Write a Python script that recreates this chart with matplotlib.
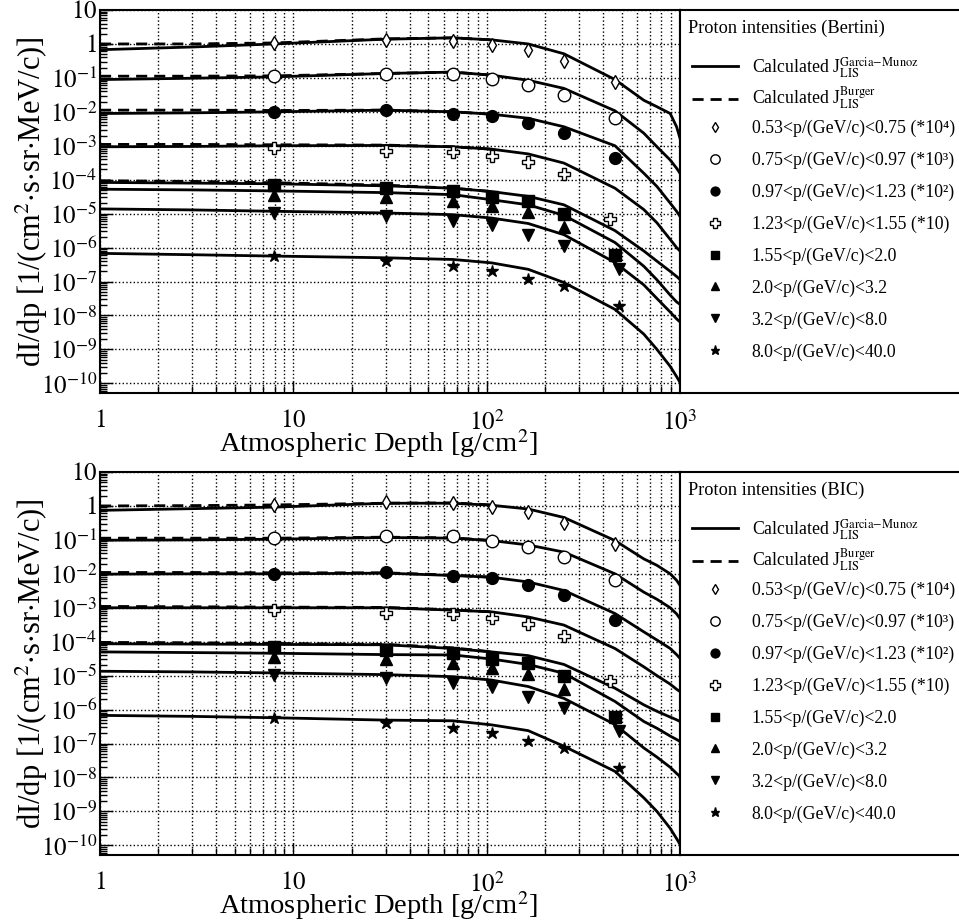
import numpy as np
import matplotlib
matplotlib.use("Agg")
import matplotlib.pyplot as plt
from matplotlib.lines import Line2D
from matplotlib.ticker import LogLocator, NullFormatter

plt.rcParams['font.family'] = ['Liberation Serif', 'DejaVu Serif']
plt.rcParams['mathtext.fontset'] = 'stix'

# ---- measured proton intensities (same points in both panels) ----
depth_main = [7.9, 30, 67, 106, 164, 251, 461]
depth_cross = [7.9, 30, 67, 106, 164, 251, 435]
depth_up = [7.9, 30, 67, 106, 164, 251]
depth_low = [7.9, 30, 67, 106, 164, 251, 482]

meas_053 = [1.05, 1.27, 1.21, 0.90, 0.68, 0.31, 0.076]
meas_075 = [0.111, 0.134, 0.128, 0.095, 0.061, 0.032, 0.0064]
meas_097 = [0.010, 0.0112, 0.0089, 0.0075, 0.0048, 0.0023, 4.3e-4]
meas_123 = [8.8e-4, 7.2e-4, 6.7e-4, 5.0e-4, 3.3e-4, 1.48e-4, 6.9e-6]
meas_155 = [7.1e-5, 5.7e-5, 4.5e-5, 3.2e-5, 2.3e-5, 1.0e-5, 5.9e-7]
meas_20 = [3.6e-5, 3.2e-5, 2.3e-5, 1.7e-5, 1.1e-5, 4.1e-6]
meas_32 = [1.05e-5, 8.7e-6, 5.9e-6, 4.5e-6, 2.4e-6, 1.1e-6, 2.4e-7]
meas_80 = [5.6e-7, 4.0e-7, 2.8e-7, 2.0e-7, 1.15e-7, 7.4e-8, 1.9e-8]

# ---- calculated curves, log10(dI/dp) ----
depth_calc = [1, 3, 8, 30, 67, 106, 164, 251, 461, 650, 760, 890, 960, 1000]

# Bertini, Garcia-Munoz LIS
bert_053 = [-0.17, -0.09, 0.0, 0.14, 0.18, 0.12, 0.0, -0.29, -1.05, -1.66, -1.85, -2.05, -2.44, -2.78]
bert_075 = [-1.05, -1.01, -0.97, -0.87, -0.83, -0.92, -1.07, -1.31, -1.97, -2.63, -3.03, -3.42, -3.66, -3.81]
bert_097 = [-2.05, -2.03, -2.0, -1.95, -2.0, -2.07, -2.19, -2.44, -3.0, -3.81, -4.2, -4.69, -4.93, -5.08]
bert_123 = [-3.03, -3.02, -3.0, -2.99, -3.03, -3.10, -3.24, -3.51, -4.25, -4.88, -5.27, -5.76, -6.0, -6.1]
bert_155 = [-4.08, -4.10, -4.12, -4.18, -4.25, -4.35, -4.49, -4.74, -5.5, -6.1, -6.4, -6.7, -6.85, -6.94]
bert_20 = [-4.28, -4.30, -4.33, -4.38, -4.44, -4.59, -4.74, -5.05, -5.85, -6.55, -6.95, -7.4, -7.6, -7.67]
bert_32 = [-4.86, -4.89, -4.93, -4.98, -5.03, -5.13, -5.29, -5.62, -6.44, -7.1, -7.5, -7.9, -8.1, -8.19]
bert_80 = [-6.17, -6.21, -6.25, -6.30, -6.35, -6.45, -6.64, -7.03, -7.82, -8.55, -9.0, -9.5, -9.8, -9.97]

# BIC, Garcia-Munoz LIS
bic_053 = [-0.13, -0.08, -0.035, 0.08, 0.08, 0.02, -0.09, -0.34, -1.02, -1.56, -1.75, -2.0, -2.19, -2.34]
bic_075 = [-1.01, -1.0, -0.98, -0.93, -0.95, -1.02, -1.15, -1.36, -2.0, -2.54, -2.75, -3.0, -3.18, -3.32]
bic_097 = [-2.01, -2.0, -2.0, -1.98, -2.05, -2.10, -2.24, -2.49, -3.17, -3.71, -3.95, -4.2, -4.38, -4.49]
bic_123 = [-3.0, -3.0, -3.0, -3.0, -3.07, -3.12, -3.27, -3.51, -4.2, -4.74, -5.0, -5.25, -5.4, -5.47]
bic_155 = [-4.06, -4.07, -4.08, -4.09, -4.2, -4.30, -4.41, -4.67, -5.37, -5.86, -6.05, -6.22, -6.3, -6.35]
bic_20 = [-4.30, -4.32, -4.34, -4.38, -4.39, -4.51, -4.67, -4.93, -5.76, -6.35, -6.55, -6.78, -6.88, -6.94]
bic_32 = [-4.87, -4.89, -4.92, -4.97, -5.03, -5.13, -5.32, -5.67, -6.44, -7.13, -7.4, -7.7, -7.88, -7.97]
bic_80 = [-6.17, -6.2, -6.24, -6.31, -6.33, -6.45, -6.62, -7.08, -7.82, -8.6, -9.0, -9.5, -9.8, -9.97]

# Burger LIS (only differs visibly at small depth)
depth_burger = [1, 3, 8, 30, 67, 106]
bert_burger_053 = [0.0, 0.0, 0.03, 0.15, 0.18, 0.12]
bert_burger_075 = [-0.95, -0.95, -0.94, -0.87, -0.83, -0.92]
bert_burger_097 = [-1.95, -1.95, -1.96, -1.95, -2.0, -2.07]
bert_burger_123 = [-2.96, -2.96, -2.97, -2.98, -3.03, -3.10]
bert_burger_155 = [-4.03, -4.05, -4.09, -4.16, -4.25, -4.35]
bic_burger_053 = [0.0, 0.01, 0.03, 0.08, 0.09, 0.03]
bic_burger_075 = [-0.95, -0.95, -0.95, -0.92, -0.94, -1.02]
bic_burger_097 = [-1.96, -1.96, -1.97, -1.97, -2.04, -2.10]
bic_burger_123 = [-2.96, -2.97, -2.98, -2.99, -3.06, -3.12]
bic_burger_155 = [-4.02, -4.03, -4.05, -4.08, -4.18, -4.30]

labels = [
    "0.53<p/(GeV/c)<0.75 (*10\u2074)",
    "0.75<p/(GeV/c)<0.97 (*10\u00b3)",
    "0.97<p/(GeV/c)<1.23 (*10\u00b2)",
    "1.23<p/(GeV/c)<1.55 (*10)",
    "1.55<p/(GeV/c)<2.0",
    "2.0<p/(GeV/c)<3.2",
    "3.2<p/(GeV/c)<8.0",
    "8.0<p/(GeV/c)<40.0",
]

meas_x = [depth_main, depth_main, depth_main, depth_cross, depth_main, depth_up, depth_low, depth_low]
meas_y = [meas_053, meas_075, meas_097, meas_123, meas_155, meas_20, meas_32, meas_80]
markers = [
    dict(marker='d', ms=7, mfc='white', mec='k', mew=1.0),
    dict(marker='o', ms=9, mfc='white', mec='k', mew=1.0),
    dict(marker='o', ms=8.5, mfc='k', mec='k'),
    dict(marker='P', ms=9, mfc='white', mec='k', mew=1.0),
    dict(marker='s', ms=8, mfc='k', mec='k'),
    dict(marker='^', ms=8.5, mfc='k', mec='k'),
    dict(marker='v', ms=8.5, mfc='k', mec='k'),
    dict(marker='*', ms=9, mfc='k', mec='k'),
]

panels = [
    ("Proton intensities (Bertini)",
     [bert_053, bert_075, bert_097, bert_123, bert_155, bert_20, bert_32, bert_80],
     [bert_burger_053, bert_burger_075, bert_burger_097, bert_burger_123, bert_burger_155]),
    ("Proton intensities (BIC)",
     [bic_053, bic_075, bic_097, bic_123, bic_155, bic_20, bic_32, bic_80],
     [bic_burger_053, bic_burger_075, bic_burger_097, bic_burger_123, bic_burger_155]),
]

W, H = 959, 922
fig = plt.figure(figsize=(W / 100, H / 100), dpi=100)

ytick_vals = [10.0 ** e for e in range(-10, 2)]
ytick_labels = ["$10^{%d}$" % e for e in range(-10, 0)] + ["$1$", "$10$"]
dash = (0, (4, 2.5))
leg_fs = 12.8

for i, (title, gm_curves, burger_curves) in enumerate(panels):
    top_px = 10 + 462 * i
    bot_px = 393 + 462 * i
    box_h = bot_px - top_px
    ax = fig.add_axes([100 / W, 1 - bot_px / H, 580 / W, box_h / H])

    for curve in gm_curves:
        ax.plot(depth_calc, 10.0 ** np.array(curve), color='k', lw=2.0, zorder=3)
    for curve in burger_curves:
        ax.plot(depth_burger, 10.0 ** np.array(curve), color='k', lw=2.0, ls=dash, zorder=3)
    for xs, ys, mk in zip(meas_x, meas_y, markers):
        ax.plot(xs, ys, ls='none', zorder=4, **mk)

    ax.set_xscale('log')
    ax.set_yscale('log')
    ax.set_xlim(1, 1000)
    ax.set_ylim(5.2e-11, 10)

    ax.set_xticks([1, 10, 100, 1000])
    ax.set_xticklabels(["$1$", "$10$", "$10^{2}$", "$10^{3}$"])
    ax.xaxis.set_minor_locator(LogLocator(base=10, subs=np.arange(2, 10)))
    ax.xaxis.set_minor_formatter(NullFormatter())
    ax.set_yticks(ytick_vals)
    ax.set_yticklabels(ytick_labels)
    ax.yaxis.set_minor_locator(LogLocator(base=10, subs=np.arange(2, 10), numticks=30))
    ax.yaxis.set_minor_formatter(NullFormatter())

    ax.tick_params(which='both', direction='in', top=False, right=False, width=1.0)
    ax.tick_params(which='major', length=9, labelsize=18)
    ax.tick_params(which='minor', length=5)
    ax.tick_params(axis='x', pad=12)
    ax.tick_params(axis='y', pad=2)

    ax.grid(True, axis='x', which='both', ls=':', color='k', lw=1.0)
    ax.grid(True, axis='y', which='major', ls=':', color='k', lw=1.0)
    for s in ax.spines.values():
        s.set_linewidth(1.5)

    ax.set_xlabel("Atmospheric Depth [g/cm$^{2}$]", fontsize=20.5)
    ax.xaxis.set_label_coords(0.48, -0.09)
    ax.set_ylabel(r"dI/dp [1/(cm$^{2}$$\cdot$s$\cdot$sr$\cdot$MeV/c)]", fontsize=22)
    ax.yaxis.set_label_coords(-0.086, 0.5)

    # legend box to the right of the plot
    lax = fig.add_axes([680 / W, 1 - bot_px / H, 300 / W, box_h / H])
    lax.set_xticks([])
    lax.set_yticks([])
    for s in lax.spines.values():
        s.set_linewidth(1.5)
    lax.text(8 / 300, 1 - 18 / box_h, title, transform=lax.transAxes,
             ha='left', va='center', fontsize=13.2)

    line_handles = [Line2D([], [], color='k', lw=2.0),
                    Line2D([], [], color='k', lw=2.0, ls=dash)]
    line_names = [r"Calculated J$_{\rm LIS}^{\rm Garcia\!-\!Munoz}$",
                  r"Calculated J$_{\rm LIS}^{\rm Burger}$"]
    leg1 = lax.legend(line_handles, line_names, loc='upper left',
                      bbox_to_anchor=(12 / 300, 1 - 45 / box_h), frameon=False,
                      fontsize=leg_fs, handlelength=2.6, handletextpad=0.75,
                      labelspacing=0.3, borderpad=0.0, borderaxespad=0.0)
    lax.add_artist(leg1)

    mark_handles = [Line2D([], [], ls='none', **mk) for mk in markers]
    lax.legend(mark_handles, labels, loc='upper left',
               bbox_to_anchor=(12 / 300, 1 - 110 / box_h), frameon=False,
               fontsize=leg_fs, handlelength=2.6, handletextpad=0.75,
               labelspacing=0.82, borderpad=0.0, borderaxespad=0.0,
               numpoints=1, markerscale=0.75)

fig.savefig("out.png", dpi=100)
